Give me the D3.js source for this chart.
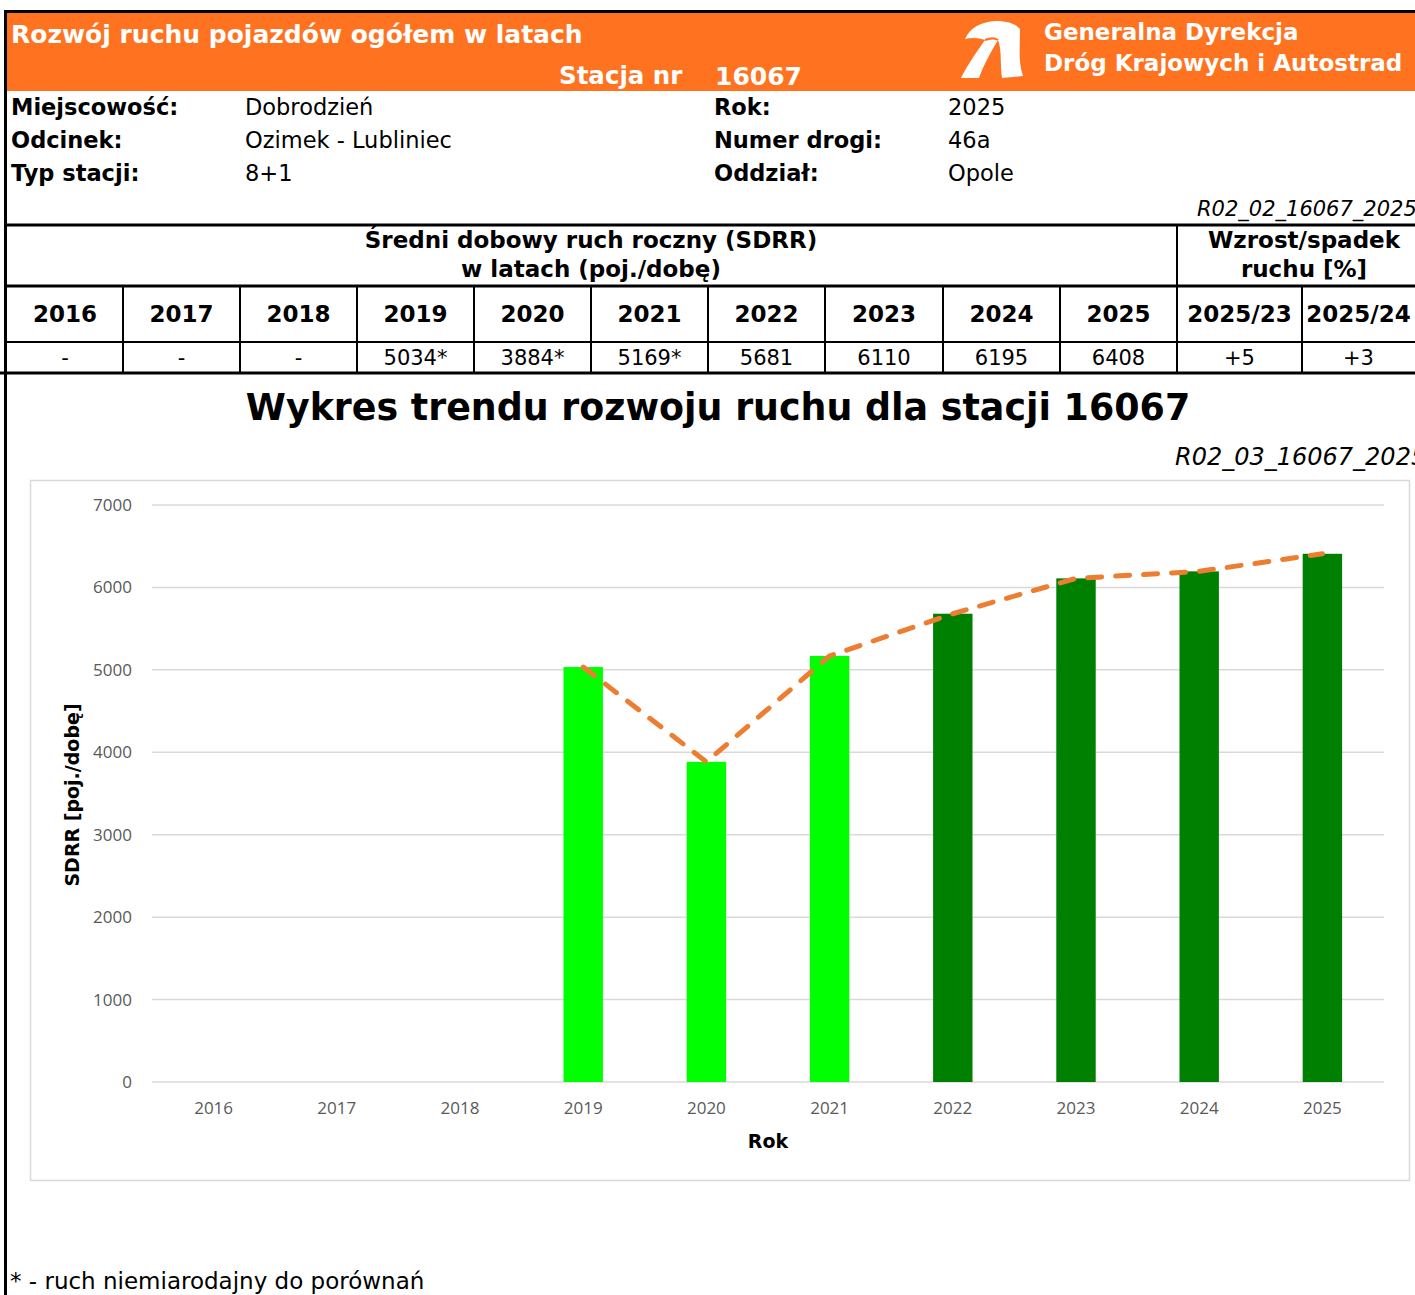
<!DOCTYPE html>
<html>
<head>
<meta charset="utf-8">
<script src="https://cdn.jsdelivr.net/npm/d3@7"></script>
<style>
  body { margin: 0; background: #fff; }
  svg text { font-family: "DejaVu Sans", Verdana, sans-serif; }
  .ax text { font-family: "Open Sans", "Noto Sans", sans-serif; }
</style>
</head>
<body>
<svg width="1415" height="1295"></svg>
<script>
// data
const years = ['2016', '2017', '2018', '2019', '2020', '2021', '2022', '2023', '2024', '2025'];
const sdrr = [null, null, null, 5034, 3884, 5169, 5681, 6110, 6195, 6408];
const notComparable = [false, false, false, true, true, true, false, false, false, false];
const growthHeads = ['2025/23', '2025/24'];
const growthVals = ['+5', '+3'];
const yTicks = [0, 1000, 2000, 3000, 4000, 5000, 6000, 7000];

const infoLeft = [['Miejscowość:', 'Dobrodzień'], ['Odcinek:', 'Ozimek - Lubliniec'], ['Typ stacji:', '8+1']];
const infoRight = [['Rok:', '2025'], ['Numer drogi:', '46a'], ['Oddział:', 'Opole']];

var svg = d3.select('svg');
var width = +svg.attr('width');
var height = +svg.attr('height');

const orange = '#FF7320';

// frame
svg.append('rect').attr('x', 4).attr('y', 10).attr('width', width).attr('height', 3).style('fill', '#000');
svg.append('rect').attr('x', 4).attr('y', 10).attr('width', 3).attr('height', height).style('fill', '#000');

// header band
svg.append('rect').attr('x', 7).attr('y', 13).attr('width', width - 7).attr('height', 78).style('fill', orange);
svg.append('text').attr('x', 11).attr('y', 43).text('Rozwój ruchu pojazdów ogółem w latach')
  .style('font-size', '25px').style('font-weight', 'bold').style('fill', '#fff');
svg.append('text').attr('x', 559).attr('y', 84).text('Stacja nr')
  .style('font-size', '24.5px').style('font-weight', 'bold').style('fill', '#fff');
svg.append('text').attr('x', 715).attr('y', 85).text('16067')
  .style('font-size', '25px').style('font-weight', 'bold').style('fill', '#fff');

// logo (rough shape)
const logo = svg.append('g').attr('transform', 'translate(958,18)');
logo.append('path')
  .attr('d', 'M3,60 C10,46 20,32 27,22 C22,20 14,19 7,21 C12,10 22,4 38,3 C50,3 58,6 62,11 C62,28 60,44 65,58 L44,60 C42,46 44,32 40,22 C34,32 26,46 21,60 Z')
  .style('fill', '#fff');
logo.append('path').attr('d', 'M27,22 C32,20 37,20 40,22').style('stroke', orange).style('stroke-width', 2).style('fill', 'none');

svg.append('text').attr('x', 1044).attr('y', 40).text('Generalna Dyrekcja')
  .style('font-size', '23px').style('font-weight', 'bold').style('fill', '#fff');
svg.append('text').attr('x', 1044).attr('y', 71).text('Dróg Krajowych i Autostrad')
  .style('font-size', '23px').style('font-weight', 'bold').style('fill', '#fff');

// info rows
const infoY = [115, 148, 181];
infoLeft.forEach((r, i) => {
  svg.append('text').attr('x', 11).attr('y', infoY[i]).text(r[0]).style('font-size', '22.5px').style('font-weight', 'bold');
  svg.append('text').attr('x', 245).attr('y', infoY[i]).text(r[1]).style('font-size', '22.5px');
});
infoRight.forEach((r, i) => {
  svg.append('text').attr('x', 714).attr('y', infoY[i]).text(r[0]).style('font-size', '22.5px').style('font-weight', 'bold');
  svg.append('text').attr('x', 948).attr('y', infoY[i]).text(r[1]).style('font-size', '22.5px');
});
svg.append('text').attr('x', 1197).attr('y', 216).text('R02_02_16067_2025')
  .style('font-size', '21px').style('font-style', 'italic');

// table
const colX = [7, 123, 240, 357, 474, 591, 708, 825, 943, 1060, 1177, 1302, 1415];
const tbl = svg.append('g');
const line = (x1, y1, x2, y2, w) => tbl.append('line').attr('x1', x1).attr('y1', y1).attr('x2', x2).attr('y2', y2)
  .style('stroke', '#000').style('stroke-width', w);
line(4, 225, width, 225, 3);
line(4, 286, width, 286, 3);
line(4, 342, width, 342, 2);
line(0, 373, width, 373, 3);
line(1177, 225, 1177, 373, 2);
colX.slice(1, -1).forEach(x => line(x, 286, x, 373, 2));

tbl.append('text').attr('x', 591).attr('y', 248).attr('text-anchor', 'middle').text('Średni dobowy ruch roczny (SDRR)')
  .style('font-size', '23px').style('font-weight', 'bold');
tbl.append('text').attr('x', 591).attr('y', 277).attr('text-anchor', 'middle').text('w latach (poj./dobę)')
  .style('font-size', '23px').style('font-weight', 'bold');
tbl.append('text').attr('x', 1304).attr('y', 248).attr('text-anchor', 'middle').text('Wzrost/spadek')
  .style('font-size', '23px').style('font-weight', 'bold');
tbl.append('text').attr('x', 1304).attr('y', 277).attr('text-anchor', 'middle').text('ruchu [%]')
  .style('font-size', '23px').style('font-weight', 'bold');

const heads = years.concat(growthHeads);
const cells = sdrr.map((v, i) => v == null ? '-' : v + (notComparable[i] ? '*' : '')).concat(growthVals);
heads.forEach((h, i) => {
  const cx = (colX[i] + colX[i + 1]) / 2;
  tbl.append('text').attr('x', cx).attr('y', 322).attr('text-anchor', 'middle').text(h)
    .style('font-size', '23px').style('font-weight', 'bold');
  tbl.append('text').attr('x', cx).attr('y', 365).attr('text-anchor', 'middle').text(cells[i])
    .style('font-size', '21px');
});

// chart
svg.append('text').attr('x', 718).attr('y', 420).attr('text-anchor', 'middle')
  .text('Wykres trendu rozwoju ruchu dla stacji 16067')
  .style('font-size', '36.4px').style('font-weight', 'bold');
svg.append('text').attr('x', 1175).attr('y', 465).text('R02_03_16067_2025')
  .style('font-size', '24px').style('font-style', 'italic');

svg.append('rect').attr('x', 30.5).attr('y', 480.5).attr('width', 1379).attr('height', 700)
  .style('fill', 'none').style('stroke', '#d9d9d9').style('stroke-width', 1.5);

const xScale = d3.scaleBand().domain(years).range([152, 1384]).paddingInner(0.68).paddingOuter(0.34);
const yScale = d3.scaleLinear().domain([0, 7000]).range([1082, 505]);

const g = svg.append('g');
g.selectAll('line.grid').data(yTicks).enter().append('line')
  .attr('x1', 152).attr('x2', 1384)
  .attr('y1', d => yScale(d)).attr('y2', d => yScale(d))
  .style('stroke', '#d9d9d9').style('stroke-width', 1.5);

const yAxis = g.append('g').attr('class', 'ax').attr('transform', 'translate(152,0)')
  .call(d3.axisLeft(yScale).tickValues(yTicks).tickFormat(d3.format('d')).tickSize(0).tickPadding(20));
yAxis.select('.domain').remove();
yAxis.selectAll('text').style('font-size', '17px').style('fill', '#595959');

const xAxis = g.append('g').attr('class', 'ax').attr('transform', 'translate(0,1082)')
  .call(d3.axisBottom(xScale).tickSize(0).tickPadding(20));
xAxis.select('.domain').remove();
xAxis.selectAll('text').style('font-size', '17px').style('fill', '#595959');

const pts = years.map((y, i) => ({ year: y, v: sdrr[i], light: notComparable[i] })).filter(d => d.v != null);

g.selectAll('rect.bar').data(pts).enter().append('rect')
  .attr('x', d => xScale(d.year))
  .attr('y', d => yScale(d.v))
  .attr('width', xScale.bandwidth())
  .attr('height', d => yScale(0) - yScale(d.v))
  .style('fill', d => d.light ? '#00FF00' : '#008000');

g.append('path').datum(pts)
  .attr('d', d3.line().x(d => xScale(d.year) + xScale.bandwidth() / 2).y(d => yScale(d.v)))
  .style('fill', 'none').style('stroke', '#ED7D31').style('stroke-width', 5)
  .style('stroke-linecap', 'round').style('stroke-dasharray', '14 14');

svg.append('text').attr('x', 768).attr('y', 1148).attr('text-anchor', 'middle').text('Rok')
  .style('font-size', '19px').style('font-weight', 'bold');
svg.append('text').attr('transform', 'translate(79,795) rotate(-90)').attr('text-anchor', 'middle')
  .text('SDRR [poj./dobę]')
  .style('font-size', '19px').style('font-weight', 'bold');

svg.append('text').attr('x', 10).attr('y', 1289).text('* - ruch niemiarodajny do porównań')
  .style('font-size', '23px');
</script>
</body>
</html>
